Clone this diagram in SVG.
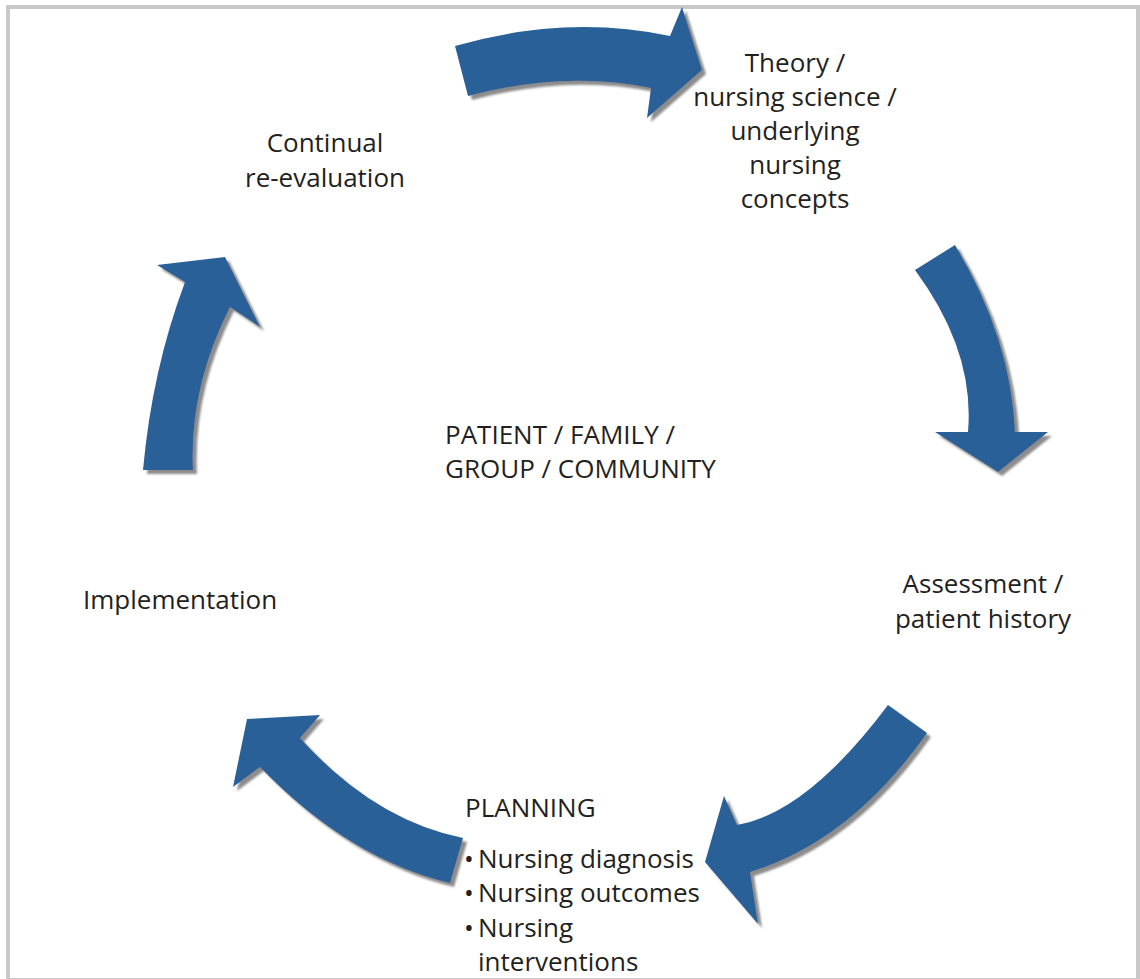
<svg xmlns="http://www.w3.org/2000/svg" width="1140" height="979" viewBox="0 0 1140 979">
<style>
.t{font-family:"Open Sans","Noto Sans","Liberation Sans",sans-serif;font-size:26px;fill:#231f20}
.m{text-anchor:middle}
.arrow{fill:#2b6198;filter:url(#sh)}
</style>
<defs>
<filter id="sh" x="-20%" y="-20%" width="140%" height="140%">
<feGaussianBlur in="SourceAlpha" stdDeviation="1.2"/>
<feOffset dx="4" dy="4" result="o"/>
<feFlood flood-color="#8c8c8c"/>
<feComposite in2="o" operator="in"/>
<feMerge><feMergeNode/><feMergeNode in="SourceGraphic"/></feMerge>
</filter>
</defs>
<rect width="1140" height="979" fill="#ffffff"/>
<rect x="8" y="7" width="1130" height="973" fill="none" stroke="#c8c8c8" stroke-width="4"/>
<g id="connectors">
<path class="arrow" d="M455,46 Q566,14 670,36 L682,7 L702,70 L647,118 L651,88 Q565,70 468,96 Z"/>
<path class="arrow" d="M955,245 Q1011,338 1015,432 L1048,432 L998,472 L935,432 L968,432 Q975,351 915,270 Z"/>
<path class="arrow" d="M888,705 L927,733 Q851,841 750,872 L758,924 L705,862 L724,796 L737,825 Q807,813 888,705 Z"/>
<path class="arrow" d="M247,719 L320,715 L300,738 Q374,820 463,838 L450,883 Q349,859 260,767 L233,787 Z"/>
<path class="arrow" d="M143,470 Q152,370 185,282 L157,265 L225,257 L260,327 L230,307 Q189,388 193,470 Z"/>
</g>
<g id="theory">
<text class="t m" x="795" y="72">Theory /</text>
<text class="t m" x="795" y="106">nursing science /</text>
<text class="t m" x="795" y="140">underlying</text>
<text class="t m" x="795" y="174">nursing</text>
<text class="t m" x="795" y="208">concepts</text>
</g>
<g id="reevaluation">
<text class="t m" x="325" y="152">Continual</text>
<text class="t m" x="325" y="187">re-evaluation</text>
</g>
<g id="patient">
<text class="t" x="445" y="444">PATIENT / FAMILY /</text>
<text class="t" x="445" y="478">GROUP / COMMUNITY</text>
</g>
<g id="assessment">
<text class="t m" x="983" y="593">Assessment /</text>
<text class="t m" x="983" y="628">patient history</text>
</g>
<g id="implementation">
<text class="t" x="83" y="609">Implementation</text>
</g>
<g id="planning">
<text class="t" x="465" y="817">PLANNING</text>
<text class="t" x="464" y="868">•</text>
<text class="t" x="478" y="868">Nursing diagnosis</text>
<text class="t" x="464" y="902">•</text>
<text class="t" x="478" y="902">Nursing outcomes</text>
<text class="t" x="464" y="937">•</text>
<text class="t" x="478" y="937">Nursing</text>
<text class="t" x="478" y="971">interventions</text>
</g>
</svg>
